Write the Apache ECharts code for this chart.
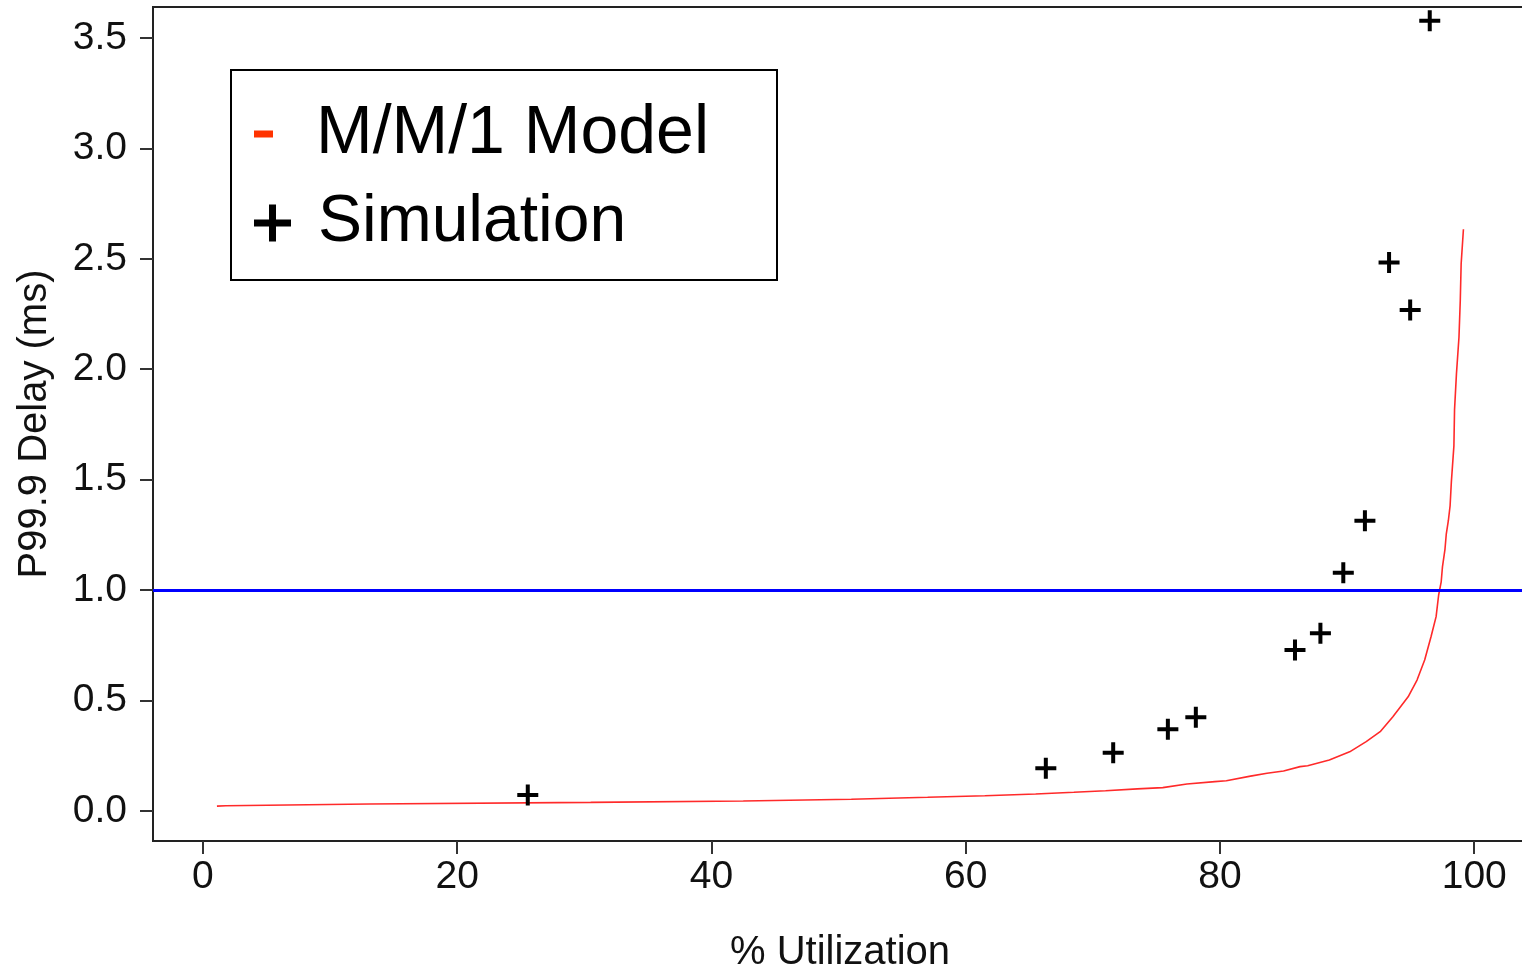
<!DOCTYPE html>
<html>
<head>
<meta charset="utf-8">
<title>P99.9 Delay vs Utilization</title>
<script src="https://cdn.jsdelivr.net/npm/echarts@6/dist/echarts.min.js"></script>
<style>
  html, body { margin: 0; padding: 0; background: #fff; }
  #chart { width: 1522px; height: 970px; }
</style>
</head>
<body>
<div id="chart"></div>
<script>
// M/M/1 model curve: utilization (%) and P99.9 delay (ms)
var modelX = [1.1, 1.8, 13.1, 30.5, 42.5, 51.0, 57.0, 61.5, 65.5, 68.5, 71.0, 73.5, 75.5,
  77.4, 79.6, 80.5, 82.4, 83.7, 85.0, 86.3, 86.9, 88.6, 90.2, 91.5, 92.6, 93.6, 94.8,
  95.5, 96.1, 96.6, 97.0, 97.2, 97.4, 97.5, 97.7, 97.8, 97.96, 98.1, 98.2, 98.4, 98.45,
  98.6, 98.8, 98.9, 98.97, 99.15];
var modelY = [0.022, 0.024, 0.032, 0.039, 0.045, 0.053, 0.062, 0.069, 0.077, 0.085, 0.092, 0.100, 0.106,
  0.122, 0.133, 0.137, 0.158, 0.171, 0.181, 0.201, 0.205, 0.231, 0.268, 0.314, 0.359, 0.427, 0.517,
  0.593, 0.684, 0.789, 0.880, 0.978, 1.037, 1.105, 1.186, 1.254, 1.313, 1.381, 1.490, 1.653, 1.816,
  1.979, 2.146, 2.309, 2.477, 2.634];

// Simulation measurements
var simX = [25.55, 66.3, 71.6, 75.9, 78.1, 85.9, 87.9, 89.7, 91.4, 93.3, 94.96, 96.5];
var simY = [0.072, 0.193, 0.264, 0.370, 0.424, 0.729, 0.805, 1.079, 1.314, 2.483, 2.268, 3.578];

// Tick values and reference threshold
var xTicks = [0, 20, 40, 60, 80, 100];
var yTicks = [0, 0.5, 1.0, 1.5, 2.0, 2.5, 3.0, 3.5];
var slaDelay = 1.0;

var seriesNames = ['M/M/1 Model', 'Simulation'];

var modelData = modelX.map(function (x, i) { return [x, modelY[i]]; });
var simData = simX.map(function (x, i) { return [x, simY[i]]; });

var plusPath = 'path://M8.5,0h4v8.5h8.5v4h-8.5v8.5h-4v-8.5h-8.5v-4h8.5z';
var plusLegendPath = 'path://M15,0h7v15h15v7h-15v15h-7v-15h-15v-7h15z';

var FONT = 'Liberation Sans, Arial, Helvetica, sans-serif';

var chart = echarts.init(document.getElementById('chart'), null, { renderer: 'canvas' });

chart.setOption({
  animation: false,
  backgroundColor: '#ffffff',
  grid: {
    left: 153, top: 7, right: -5, bottom: 129,
    outerBoundsMode: 'none',
    containLabel: false,
    show: true, borderColor: '#222', borderWidth: 2, backgroundColor: 'transparent'
  },
  xAxis: {
    type: 'value',
    min: -3.93, max: 104.15,
    name: '% Utilization',
    nameLocation: 'middle',
    nameGap: 92,
    nameTextStyle: { fontFamily: FONT, fontSize: 40, color: '#111' },
    axisLine: { show: true, onZero: false, lineStyle: { color: '#222', width: 2 } },
    axisTick: { show: true, inside: false, length: 13, customValues: xTicks,
      lineStyle: { color: '#333', width: 2 } },
    axisLabel: { show: true, margin: 17, customValues: xTicks,
      fontFamily: FONT, fontSize: 39, color: '#111',
      formatter: function (v) { return String(v); } },
    splitLine: { show: false }
  },
  yAxis: {
    type: 'value',
    min: -0.1358, max: 3.640,
    name: 'P99.9 Delay (ms)',
    nameLocation: 'middle',
    nameGap: 98,
    nameTextStyle: { fontFamily: FONT, fontSize: 40, color: '#111' },
    axisLine: { show: true, onZero: false, lineStyle: { color: '#222', width: 2 } },
    axisTick: { show: true, inside: false, length: 13, customValues: yTicks,
      lineStyle: { color: '#333', width: 2 } },
    axisLabel: { show: true, margin: 26, customValues: yTicks,
      fontFamily: FONT, fontSize: 39, color: '#111',
      formatter: function (v) { return v.toFixed(1); } },
    splitLine: { show: false }
  },
  legend: [
    {
      data: [{ name: seriesNames[0], icon: 'rect', itemStyle: { color: '#ff3300' } }],
      left: 254, top: 100, padding: 0,
      itemWidth: 19, itemHeight: 7,
      selectedMode: false,
      textStyle: { fontFamily: FONT, fontSize: 68, color: '#000', padding: [0, 0, 0, 38] }
    },
    {
      data: [{ name: seriesNames[1], icon: plusLegendPath, itemStyle: { color: '#000' } }],
      left: 254, top: 190, padding: 0,
      itemWidth: 37, itemHeight: 37,
      selectedMode: false,
      textStyle: { fontFamily: FONT, fontSize: 66, color: '#000', padding: [0, 0, 0, 22] }
    }
  ],
  graphic: [
    {
      type: 'rect',
      shape: { x: 231, y: 70, width: 546, height: 210 },
      style: { fill: 'transparent', stroke: '#000', lineWidth: 2 },
      z: 100, silent: true
    }
  ],
  series: [
    {
      name: seriesNames[0],
      type: 'line',
      data: modelData,
      showSymbol: false,
      symbol: 'none',
      smooth: false,
      clip: true,
      lineStyle: { color: '#ff2a2a', width: 1.6 },
      itemStyle: { color: '#ff3300' },
      markLine: {
        silent: true,
        symbol: ['none', 'none'],
        label: { show: false },
        lineStyle: { color: '#0000ff', width: 3, type: 'solid' },
        data: [{ yAxis: slaDelay }]
      },
      z: 3
    },
    {
      name: seriesNames[1],
      type: 'scatter',
      data: simData,
      symbol: plusPath,
      symbolSize: 21,
      itemStyle: { color: '#000', opacity: 1 },
      clip: false,
      z: 4
    }
  ]
});
</script>
</body>
</html>
